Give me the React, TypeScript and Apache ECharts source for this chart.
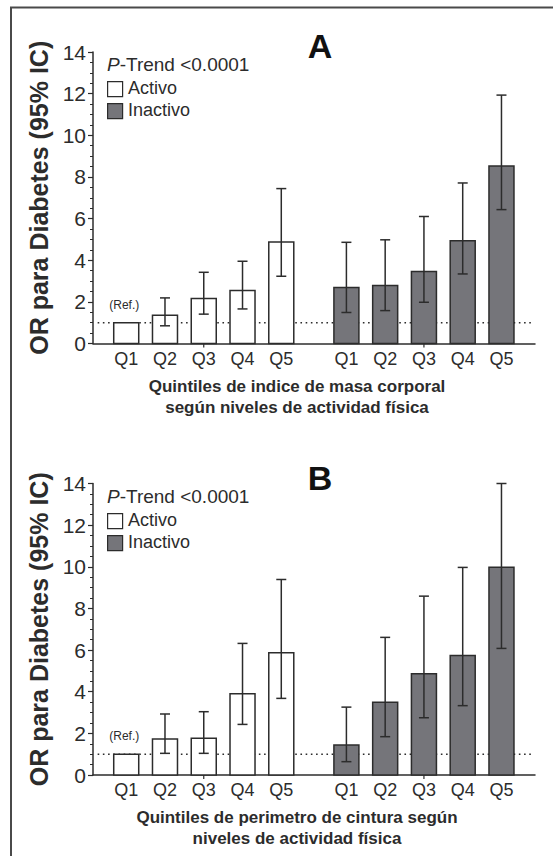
import React, { useEffect, useRef } from "react";
import * as echarts from "echarts";

// ---- Data ----
const quintiles = ["Q1", "Q2", "Q3", "Q4", "Q5"];
const yTicks = [0, 2, 4, 6, 8, 10, 12, 14];

// Panel A: índice de masa corporal
const imcActivo = [1.0, 1.36, 2.16, 2.54, 4.88];
const imcActivoLow = [null, 0.85, 1.41, 1.66, 3.23];
const imcActivoHigh = [null, 2.19, 3.42, 3.95, 7.44];
const imcInactivo = [2.69, 2.78, 3.46, 4.94, 8.53];
const imcInactivoLow = [1.49, 1.58, 1.98, 3.34, 6.43];
const imcInactivoHigh = [4.86, 4.98, 6.1, 7.71, 11.93];

// Panel B: perímetro de cintura
const cinActivo = [1.0, 1.73, 1.76, 3.9, 5.87];
const cinActivoLow = [null, 1.04, 1.04, 2.43, 3.68];
const cinActivoHigh = [null, 2.93, 3.04, 6.32, 9.39];
const cinInactivo = [1.44, 3.49, 4.86, 5.74, 9.98];
const cinInactivoLow = [0.64, 1.84, 2.75, 3.33, 6.08];
const cinInactivoHigh = [3.26, 6.61, 8.59, 9.97, 14.0];

const refValue = 1;
const pTrend = "<0.0001";

// ---- Layout constants ----
const X_MIN = 0.143;
const X_MAX = 11.545;
const GROUP_OFFSET = 5.68;
const BAR_W = 0.645;
const FONT = "'Liberation Sans', Arial, Helvetica, sans-serif";
const INK = "#2c2c2c";
const GRAY = "#75757a";

function barSeries(values: number[], offset: number, fill: string, gi: number, showRef: boolean) {
  return {
    type: "custom",
    xAxisIndex: gi,
    yAxisIndex: gi,
    z: 3,
    silent: true,
    data: values.map((v, i) => [i + 1 + offset, v, i]),
    renderItem: (params: any, api: any) => {
      const x = api.value(0);
      const y = api.value(1);
      const idx = api.value(2);
      const top = api.coord([x, y]);
      const base = api.coord([x, 0]);
      const w = api.size([BAR_W, 0])[0];
      const children: any[] = [
        {
          type: "rect",
          shape: { x: top[0] - w / 2, y: top[1], width: w, height: base[1] - top[1] },
          style: { fill, stroke: INK, lineWidth: 1.5 },
        },
        {
          type: "text",
          style: {
            text: quintiles[idx],
            x: base[0],
            y: base[1] + 6,
            align: "center",
            verticalAlign: "top",
            fontSize: 18,
            fontFamily: FONT,
            fill: INK,
          },
        },
      ];
      if (idx === 2) {
        children.push({
          type: "line",
          shape: { x1: base[0], y1: base[1], x2: base[0], y2: base[1] + 4 },
          style: { stroke: INK, lineWidth: 1.2 },
        });
      }
      if (showRef && idx === 0) {
        children.push({
          type: "text",
          style: {
            text: "(Ref.)",
            x: top[0] - 2,
            y: top[1] - 12,
            align: "center",
            verticalAlign: "bottom",
            fontSize: 12,
            fontFamily: FONT,
            fill: INK,
          },
        });
      }
      return { type: "group", children };
    },
  };
}

function errSeries(low: (number | null)[], high: (number | null)[], offset: number, gi: number) {
  const data: any[] = [];
  low.forEach((l, i) => {
    const h = high[i];
    if (l != null && h != null) data.push([i + 1 + offset, l, h]);
  });
  return {
    type: "custom",
    xAxisIndex: gi,
    yAxisIndex: gi,
    z: 4,
    silent: true,
    data,
    renderItem: (params: any, api: any) => {
      const x = api.value(0);
      const lo = api.coord([x, api.value(1)]);
      const hi = api.coord([x, api.value(2)]);
      const cap = 5;
      const st = { stroke: INK, lineWidth: 1.5 };
      return {
        type: "group",
        children: [
          { type: "line", shape: { x1: lo[0], y1: lo[1], x2: hi[0], y2: hi[1] }, style: st },
          { type: "line", shape: { x1: lo[0] - cap, y1: lo[1], x2: lo[0] + cap, y2: lo[1] }, style: st },
          { type: "line", shape: { x1: hi[0] - cap, y1: hi[1], x2: hi[0] + cap, y2: hi[1] }, style: st },
        ],
      };
    },
  };
}

function refLine(gi: number) {
  return {
    type: "line",
    xAxisIndex: gi,
    yAxisIndex: gi,
    z: 1,
    silent: true,
    symbol: "none",
    data: [
      [X_MIN + 0.12, refValue],
      [X_MAX - 0.08, refValue],
    ],
    lineStyle: { color: INK, width: 1.6, type: [1.6, 3.6] },
  };
}

function legendGraphics(top: number, label: string) {
  return [
    {
      type: "text",
      left: 107,
      top: top,
      style: {
        text: "{i|P}-Trend " + label,
        fontSize: 19,
        fontFamily: FONT,
        fill: INK,
        rich: { i: { fontStyle: "italic", fontSize: 19, fontFamily: FONT, fill: INK } },
      },
    },
    {
      type: "rect",
      left: 107,
      top: top + 26,
      shape: { width: 15, height: 15 },
      style: { fill: "#ffffff", stroke: INK, lineWidth: 1.2 },
    },
    {
      type: "text",
      left: 128,
      top: top + 24,
      style: { text: "Activo", fontSize: 18, fontFamily: FONT, fill: INK },
    },
    {
      type: "rect",
      left: 107,
      top: top + 48,
      shape: { width: 15, height: 15 },
      style: { fill: GRAY, stroke: INK, lineWidth: 1.2 },
    },
    {
      type: "text",
      left: 128,
      top: top + 46,
      style: { text: "Inactivo", fontSize: 18, fontFamily: FONT, fill: INK },
    },
  ];
}

function xAxisCfg(gi: number, name: string) {
  return {
    type: "value",
    gridIndex: gi,
    min: X_MIN,
    max: X_MAX,
    axisLine: { show: true, onZero: false, lineStyle: { color: INK, width: 1.5 } },
    axisTick: { show: false },
    axisLabel: { show: false },
    splitLine: { show: false },
    name,
    nameLocation: "middle",
    nameGap: 32,
    nameTextStyle: {
      fontSize: 17,
      fontWeight: "bold",
      fontFamily: FONT,
      color: INK,
      lineHeight: 21,
      padding: [0, 34, 0, 0],
    },
  };
}

function yAxisCfg(gi: number) {
  return {
    type: "value",
    gridIndex: gi,
    min: yTicks[0],
    max: yTicks[yTicks.length - 1],
    interval: 2,
    axisLine: { show: true, lineStyle: { color: INK, width: 1.5 } },
    axisTick: { show: true, length: 5, lineStyle: { color: INK, width: 1.2 } },
    minorTick: { show: true, splitNumber: 4, length: 3, lineStyle: { color: INK, width: 1 } },
    axisLabel: { fontSize: 21, fontFamily: FONT, color: INK, margin: 7 },
    splitLine: { show: false },
    name: "OR para Diabetes (95% IC)",
    nameLocation: "middle",
    nameRotate: 90,
    nameGap: 42,
    nameTextStyle: { fontSize: 25, fontWeight: "bold", fontFamily: FONT, color: INK },
  };
}

export default function App() {
  const ref = useRef<HTMLDivElement>(null);
  useEffect(() => {
    if (!ref.current) return;
    const chart = echarts.init(ref.current, undefined, { renderer: "svg" });
    const option: any = {
      animation: false,
      backgroundColor: "#ffffff",
      title: [
        {
          text: "A",
          left: 315,
          top: 24,
          textAlign: "center",
          textStyle: { fontSize: 34, fontWeight: "bold", fontFamily: FONT, color: "#111" },
        },
        {
          text: "B",
          left: 315,
          top: 456,
          textAlign: "center",
          textStyle: { fontSize: 34, fontWeight: "bold", fontFamily: FONT, color: "#111" },
        },
      ],
      grid: [
        { left: 93, top: 52, width: 442, height: 291.5 },
        { left: 93, top: 483.5, width: 442, height: 291.5 },
      ],
      xAxis: [
        xAxisCfg(0, "Quintiles de indice de masa corporal\nsegún niveles de actividad física"),
        xAxisCfg(1, "Quintiles de perimetro de cintura según\nniveles de actividad física"),
      ],
      yAxis: [yAxisCfg(0), yAxisCfg(1)],
      series: [
        refLine(0),
        barSeries(imcActivo, 0, "#ffffff", 0, true),
        barSeries(imcInactivo, GROUP_OFFSET, GRAY, 0, false),
        errSeries(imcActivoLow, imcActivoHigh, 0, 0),
        errSeries(imcInactivoLow, imcInactivoHigh, GROUP_OFFSET, 0),
        refLine(1),
        barSeries(cinActivo, 0, "#ffffff", 1, true),
        barSeries(cinInactivo, GROUP_OFFSET, GRAY, 1, false),
        errSeries(cinActivoLow, cinActivoHigh, 0, 1),
        errSeries(cinInactivoLow, cinInactivoHigh, GROUP_OFFSET, 1),
      ],
      graphic: [
        {
          type: "line",
          shape: { x1: 10, y1: 7.5, x2: 553, y2: 7.5 },
          style: { stroke: "#4a4a4a", lineWidth: 2 },
        },
        {
          type: "line",
          shape: { x1: 11, y1: 7, x2: 11, y2: 856 },
          style: { stroke: "#4a4a4a", lineWidth: 2 },
        },
        ...legendGraphics(55, pTrend),
        ...legendGraphics(487, pTrend),
      ],
    };
    chart.setOption(option);
    return () => chart.dispose();
  }, []);
  return (
    <div
      ref={ref}
      style={{ position: "fixed", left: 0, top: 0, width: 553, height: 856, background: "#fff" }}
    />
  );
}
